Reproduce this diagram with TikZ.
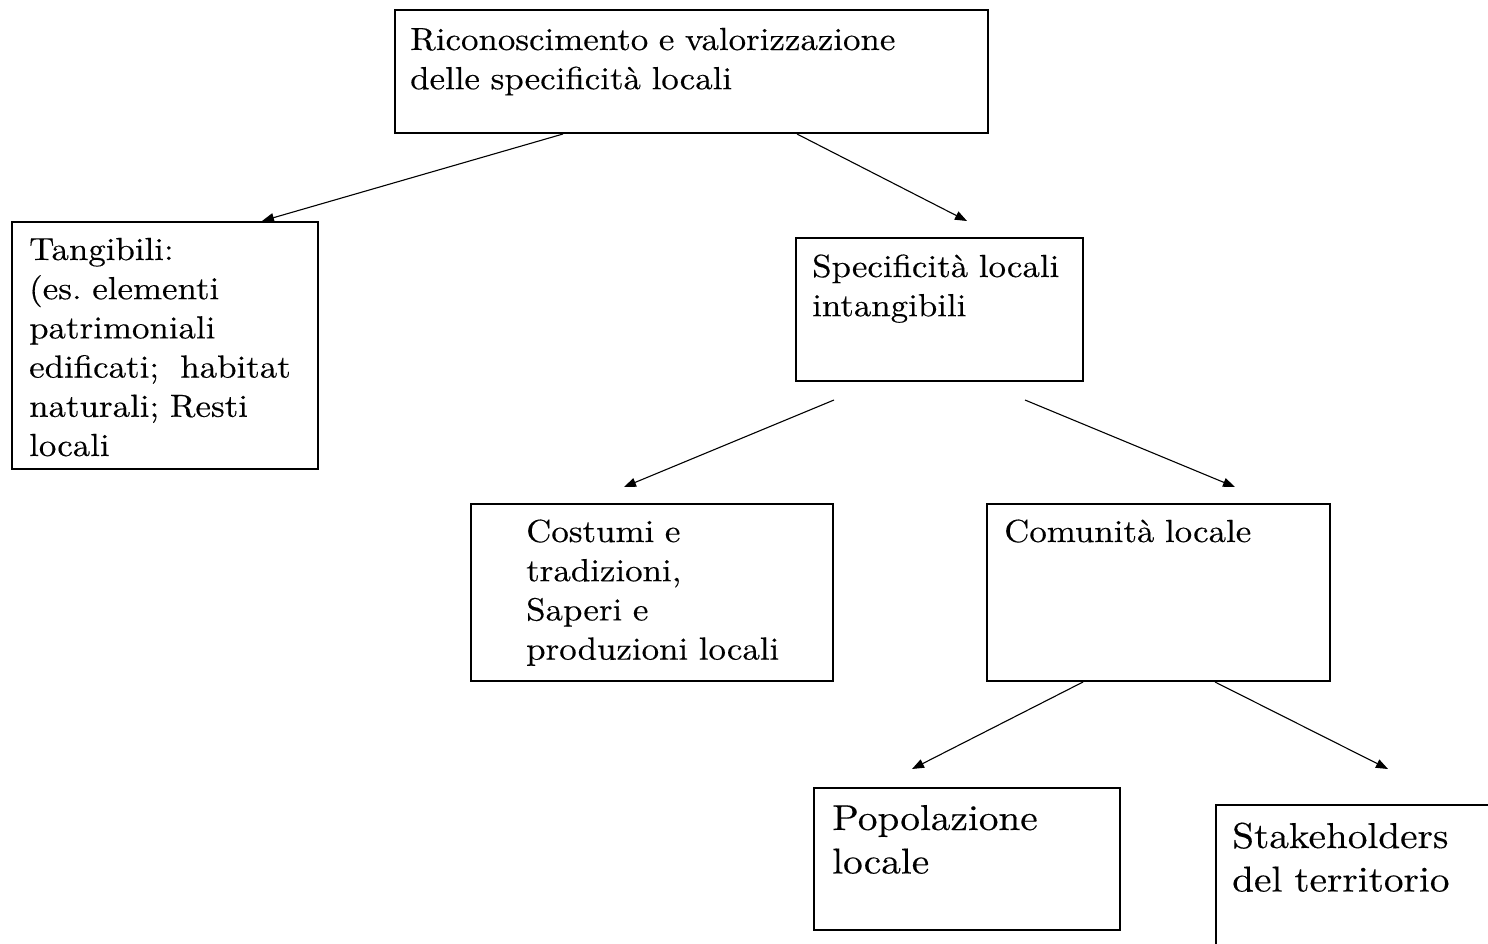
\documentclass[tikz,border=0pt]{standalone}
\usepackage{fontspec}
\setmainfont{lmroman10-regular}[Extension=.otf, FakeStretch=1.09, FakeBold=0.3]
\usetikzlibrary{arrows.meta}
\frenchspacing
\begin{document}
\begin{tikzpicture}[x=1pt,y=-1pt,
  box/.style={draw, line width=1.5pt, anchor=north west, inner sep=0pt, outer sep=0pt},
  txt/.style={anchor=base west, inner sep=0pt, align=left, text width=600pt,
    font=\fontsize{32}{39.2}\selectfont},
  bigtxt/.style={anchor=base west, inner sep=0pt, align=left, text width=600pt,
    font=\fontsize{36}{43.5}\selectfont},
  conn/.style={line width=1.1pt, -{Triangle[length=12pt,width=9pt]}}]
\clip (0,0) rectangle (1488,943);
% boxes
\node[box, minimum width=593pt, minimum height=123pt] (top) at (395,10) {};
\node[box, minimum width=306pt, minimum height=247pt] (tang) at (12,222) {};
\node[box, minimum width=287pt, minimum height=143pt] (intang) at (796,238) {};
\node[box, minimum width=362pt, minimum height=177pt] (cost) at (471,504) {};
\node[box, minimum width=343pt, minimum height=177pt] (comu) at (987,504) {};
\node[box, minimum width=306pt, minimum height=142pt] (popo) at (814,788) {};
\node[box, minimum width=320pt, minimum height=200pt] (stak) at (1216,805) {};
% texts
\node[txt] (ttop) at (410,50) {Riconoscimento e valorizzazione\\delle specificità locali};
\node[txt] (ttang) at (29,260) {Tangibili:\\(es.\ elementi\\patrimoniali\\edificati;\ \ habitat\\naturali; Resti\\locali};
\node[txt] (tintang) at (812,277) {Specificità locali\\intangibili};
\node[txt] (tcost) at (526,542) {Costumi e\\tradizioni,\\Saperi e\\produzioni locali};
\node[txt] (tcomu) at (1004,542) {Comunità locale};
\node[bigtxt] (tpopo) at (832,830) {Popolazione\\locale};
\node[bigtxt] (tstak) at (1232,848) {Stakeholders\\del territorio};
% connector ends
\coordinate (s1) at (563,134);  \coordinate (e1) at (262,221);
\coordinate (s2) at (797,134);  \coordinate (e2) at (967,221);
\coordinate (s3) at (834,400);  \coordinate (e3) at (624,487);
\coordinate (s4) at (1025,400); \coordinate (e4) at (1235,487);
\coordinate (s5) at (1083,682); \coordinate (e5) at (912,769);
\coordinate (s6) at (1215,682); \coordinate (e6) at (1388,769);
\draw[conn] (s1) -- (e1);
\draw[conn] (s2) -- (e2);
\draw[conn] (s3) -- (e3);
\draw[conn] (s4) -- (e4);
\draw[conn] (s5) -- (e5);
\draw[conn] (s6) -- (e6);
\end{tikzpicture}
\end{document}
